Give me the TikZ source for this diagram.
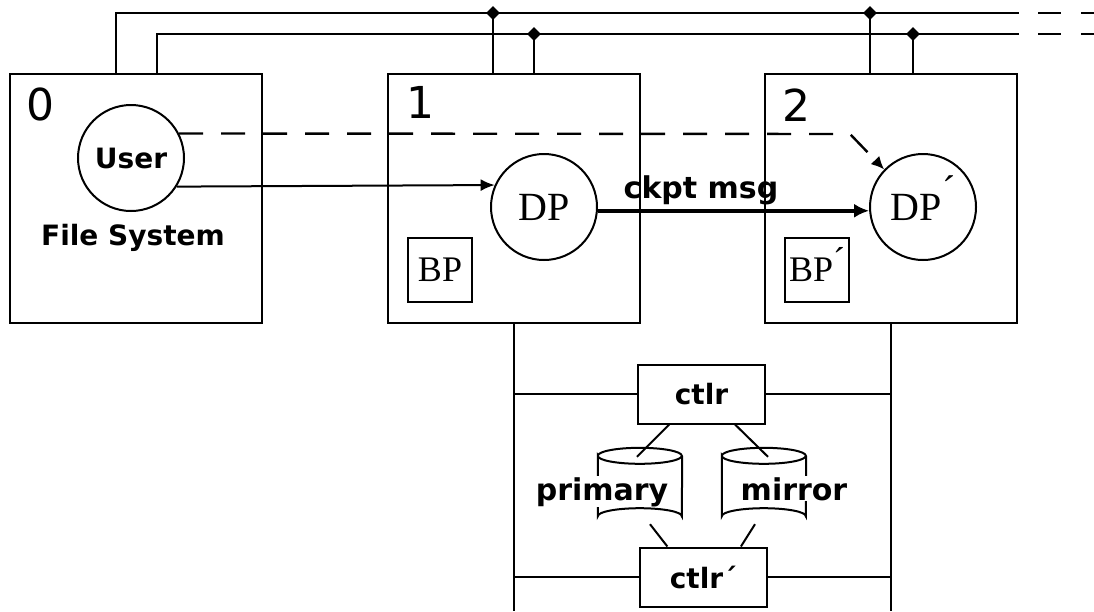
\documentclass[tikz,border=0pt]{standalone}
\usepackage{fontspec}
\setmainfont{Liberation Serif}
\newfontfamily\lblfont{DejaVu Sans}
\usetikzlibrary{arrows.meta,shapes.geometric,calc}
\tikzset{
  procbox/.style={draw, line width=2pt, minimum width=252pt, minimum height=249pt, inner sep=0pt},
  proc/.style={circle, draw, line width=2pt, minimum size=106pt, inner sep=0pt},
  bpbox/.style={draw, line width=1.8pt, minimum size=64pt, inner sep=0pt, font=\fontsize{36}{36}\selectfont},
  ctlbox/.style={draw, line width=2pt, minimum width=127pt, minimum height=59pt, inner sep=0pt},
  lbl/.style={font=\lblfont\bfseries\fontsize{28}{28}\selectfont, inner sep=0pt},
  biglbl/.style={font=\lblfont\bfseries\fontsize{30}{30}\selectfont, inner sep=0pt},
  serif/.style={font=\fontsize{40}{40}\selectfont},
  digit/.style={font=\lblfont\fontsize{44}{44}\selectfont, inner sep=0pt},
  bus/.style={line width=2.2pt},
  ln/.style={line width=2pt},
  jdot/.style={diamond, fill=black, inner sep=0pt, minimum size=14pt},
  thinarrow/.style={line width=2pt, -{Latex[length=14pt,width=12pt]}},
  thickarrow/.style={line width=4.2pt, -{Latex[length=15pt,width=14pt]}},
  dasharrow/.style={line width=2.4pt, dash pattern=on 24pt off 18pt, -{Latex[length=13pt,width=12pt]}},
}
\begin{document}
\begin{tikzpicture}[x=1pt,y=-1pt]
\useasboundingbox (0,0) rectangle (1094,611);
% processor boxes
\node[procbox] (b0) at (135.5,198.5) {};
\node[procbox] (b1) at (513.5,198.5) {};
\node[procbox] (b2) at (891,198.5) {};
\node[digit] (n0) at (40,104) {0};
\node[digit] (n1) at (420,102) {1};
\node[digit] (n2) at (796,105) {2};
% bus
\coordinate (t1) at (116,13);
\coordinate (t2) at (157,34);
\coordinate (e1) at (1019,13);
\coordinate (e2) at (1019,34);
\draw[bus] (t1 |- b0.north) -- (t1) -- (e1);
\draw[bus] (t2 |- b0.north) -- (t2) -- (e2);
\draw[bus] (1038,13) -- (1061,13) (1081,13) -- (1094,13);
\draw[bus] (1038,34) -- (1061,34) (1081,34) -- (1094,34);
\node[jdot] (j1) at (493,13) {};
\node[jdot] (j2) at (534,34) {};
\node[jdot] (j3) at (870,13) {};
\node[jdot] (j4) at (913,34) {};
\draw[bus] (j1.center) -- (j1 |- b1.north);
\draw[bus] (j2.center) -- (j2 |- b1.north);
\draw[bus] (j3.center) -- (j3 |- b2.north);
\draw[bus] (j4.center) -- (j4 |- b2.north);
% processes
\node[proc, lbl] (user) at (131,158) {User};
\node[lbl, anchor=base] (fs) at (133,245) {File System};
\node[proc, serif] (dp) at (544,207) {DP};
\node[proc, serif] (dpp) at (923,207) {DP\smash{\kern1pt\raisebox{0.42em}{´}}};
\node[bpbox] (bp) at (440,270) {BP};
\node[bpbox] (bpp) at (817,270) {BP\smash{\raisebox{0.25em}{´}}};
% messages
\draw[thinarrow] (user.-32.6) -- (dp.156.7);
\draw[thickarrow] (dp.-4.3) -- (dpp.184.3);
\node[biglbl, anchor=base] (ck) at (701,198) {ckpt msg};
\coordinate (bend) at (850,134);
\draw[dasharrow] (user.27.5) -- (bend) -- (dpp.136);
% disk subsystem
\coordinate (bot) at (0,611);
\draw[ln] (b1.south) -- (b1.south |- bot);
\draw[ln] (b2.south) -- (b2.south |- bot);
\node[ctlbox, lbl] (ctl) at (701.5,394) {ctlr};
\node[ctlbox, lbl] (ctlp) at (703.5,577) {ctlr´};
\draw[ln] (ctl.west) -- (ctl.west -| b1.south);
\draw[ln] (ctl.east) -- (ctl.east -| b2.south);
\draw[ln] (ctlp.west) -- (ctlp.west -| b1.south);
\draw[ln] (ctlp.east) -- (ctlp.east -| b2.south);
\node[minimum width=84pt, minimum height=76pt, inner sep=0pt] (pc) at (640,486) {};
\node[minimum width=84pt, minimum height=76pt, inner sep=0pt] (mc) at (764,486) {};
\draw[ln] ($(pc.north west)+(0,8)$) arc[start angle=180, end angle=-180, x radius=42pt, y radius=8pt]
  -- ($(pc.south west)+(0,-8)$) arc[start angle=180, end angle=0, x radius=42pt, y radius=8pt]
  -- ($(pc.north east)+(0,8)$);
\draw[ln] ($(mc.north west)+(0,8)$) arc[start angle=180, end angle=-180, x radius=42pt, y radius=8pt]
  -- ($(mc.south west)+(0,-8)$) arc[start angle=180, end angle=0, x radius=42pt, y radius=8pt]
  -- ($(mc.north east)+(0,8)$);
\node[biglbl, fill=white, inner sep=1pt, anchor=base] (ptxt) at (602,500) {primary};
\node[biglbl, fill=white, inner sep=1pt, anchor=base] (mtxt) at (794,500) {mirror};
\draw[ln] ($(ctl.south west)!0.25!(ctl.south east)$) -- ($(pc.north)+(-3,9)$);
\draw[ln] ($(ctl.south west)!0.76!(ctl.south east)$) -- ($(mc.north)+(4,9)$);
\draw[ln] ($(pc.south)+(10,0)$) -- ($(ctlp.north west)!0.22!(ctlp.north east)$);
\draw[ln] ($(mc.south)+(-9,0)$) -- ($(ctlp.north west)!0.79!(ctlp.north east)$);
\end{tikzpicture}
\end{document}
